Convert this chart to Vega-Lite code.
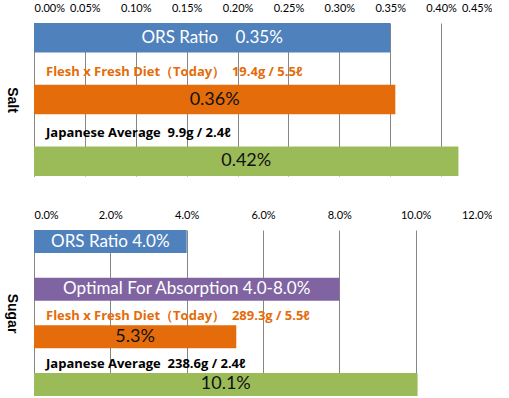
{
  "$schema": "https://vega.github.io/schema/vega-lite/v6.json",
  "padding": {"left": 4, "top": 2, "right": 0, "bottom": 0},
  "spacing": 33,
  "background": "white",
  "config": {
    "view": {"stroke": null},
    "font": "Lato",
    "axisX": {"grid": true, "gridColor": "#868686", "gridOpacity": 1, "domain": false, "ticks": false, "labelFontSize": 11, "labelPadding": 10, "labelColor": "#000", "labelFont": "Lato", "title": null, "orient": "top"},
    "axisY": {"grid": false, "labels": false, "ticks": false, "domain": true, "domainColor": "#868686", "titleAngle": 90, "titleBaseline": "top", "titleFontSize": 14, "titleFontWeight": "bold", "titleFont": "Liberation Sans", "titleColor": "#000", "titlePadding": 16}
  },
  "datasets": {
    "saltBars": [
      {"row": "a", "series": "ORS", "value": 0.0035, "text": "ORS Ratio\u00a0\u00a0\u00a0\u00a00.35%\u00a0\u00a0\u00a0\u00a0\u00a0\u00a0\u00a0"},
      {"row": "c", "series": "Flesh", "value": 0.00355, "text": "0.36%"},
      {"row": "e", "series": "Japan", "value": 0.00417, "text": "0.42%"}
    ],
    "saltCaptions": [
      {"row": "b", "series": "Flesh", "caption": "Flesh x Fresh Diet（Today）\u00a0\u00a019.4g / 5.5ℓ"},
      {"row": "d", "series": "Japan", "caption": "Japanese Average\u00a0\u00a09.9g / 2.4ℓ"}
    ],
    "sugarBars": [
      {"row": "a", "series": "ORS", "value": 0.04, "text": "ORS Ratio 4.0%"},
      {"row": "c", "series": "Optimal", "value": 0.08, "text": "Optimal For Absorption 4.0-8.0%"},
      {"row": "e", "series": "Flesh", "value": 0.053, "text": "5.3%"},
      {"row": "g", "series": "Japan", "value": 0.1005, "text": "10.1%"}
    ],
    "sugarCaptions": [
      {"row": "d", "series": "Flesh", "caption": "Flesh x Fresh Diet（Today）\u00a0\u00a0289.3g / 5.5ℓ"},
      {"row": "f", "series": "Japan", "caption": "Japanese Average\u00a0\u00a0238.6g / 2.4ℓ"}
    ]
  },
  "vconcat": [
    {
      "width": 458,
      "height": 153,
      "layer": [
        {
          "data": {"name": "saltBars"},
          "mark": {"type": "bar"},
          "encoding": {
            "y": {"field": "row", "type": "nominal", "scale": {"domain": ["a", "b", "c", "d", "e"], "paddingInner": 0.04, "paddingOuter": 0}, "axis": {"title": "Salt"}},
            "x": {"field": "value", "type": "quantitative", "scale": {"domain": [0, 0.0045], "nice": false}, "axis": {"values": [0, 0.0005, 0.001, 0.0015, 0.002, 0.0025, 0.003, 0.0035, 0.004, 0.0045], "format": ".2%"}},
            "color": {"field": "series", "type": "nominal", "scale": {"domain": ["ORS", "Optimal", "Flesh", "Japan"], "range": ["#4F81BD", "#8064A2", "#E46C0A", "#9BBB59"]}, "legend": null}
          }
        },
        {
          "data": {"name": "saltBars"},
          "transform": [{"calculate": "datum.value / 2", "as": "mid"}],
          "mark": {"type": "text", "align": "center", "baseline": "middle", "font": "Lato"},
          "encoding": {
            "y": {"field": "row", "type": "nominal"},
            "x": {"field": "mid", "type": "quantitative"},
            "text": {"field": "text"},
            "size": {"condition": {"test": "datum.series == 'ORS' || datum.series == 'Optimal'", "value": 17}, "value": 18},
            "color": {"condition": {"test": "datum.series == 'ORS' || datum.series == 'Optimal'", "value": "#ffffff"}, "value": "#111111"}
          }
        },
        {
          "data": {"name": "saltCaptions"},
          "mark": {"type": "text", "align": "left", "baseline": "middle", "dx": 12, "dy": 3, "font": "Open Sans", "fontWeight": "bold", "fontSize": 13},
          "encoding": {
            "y": {"field": "row", "type": "nominal"},
            "x": {"datum": 0},
            "text": {"field": "caption"},
            "color": {"condition": {"test": "datum.series == 'Flesh'", "value": "#E46C0A"}, "value": "#000000"}
          }
        }
      ]
    },
    {
      "width": 458,
      "height": 166,
      "layer": [
        {
          "data": {"name": "sugarBars"},
          "mark": {"type": "bar"},
          "encoding": {
            "y": {"field": "row", "type": "nominal", "scale": {"domain": ["a", "b", "c", "d", "e", "f", "g"], "paddingInner": 0.03, "paddingOuter": 0}, "axis": {"title": "Sugar"}},
            "x": {"field": "value", "type": "quantitative", "scale": {"domain": [0, 0.12], "nice": false}, "axis": {"values": [0, 0.02, 0.04, 0.06, 0.08, 0.1, 0.12], "format": ".1%"}},
            "color": {"field": "series", "type": "nominal", "scale": {"domain": ["ORS", "Optimal", "Flesh", "Japan"], "range": ["#4F81BD", "#8064A2", "#E46C0A", "#9BBB59"]}, "legend": null}
          }
        },
        {
          "data": {"name": "sugarBars"},
          "transform": [{"calculate": "datum.value / 2", "as": "mid"}],
          "mark": {"type": "text", "align": "center", "baseline": "middle", "font": "Lato"},
          "encoding": {
            "y": {"field": "row", "type": "nominal"},
            "x": {"field": "mid", "type": "quantitative"},
            "text": {"field": "text"},
            "size": {"condition": {"test": "datum.series == 'ORS' || datum.series == 'Optimal'", "value": 17}, "value": 18},
            "color": {"condition": {"test": "datum.series == 'ORS' || datum.series == 'Optimal'", "value": "#ffffff"}, "value": "#111111"}
          }
        },
        {
          "data": {"name": "sugarCaptions"},
          "mark": {"type": "text", "align": "left", "baseline": "middle", "dx": 12, "dy": 3, "font": "Open Sans", "fontWeight": "bold", "fontSize": 13},
          "encoding": {
            "y": {"field": "row", "type": "nominal"},
            "x": {"datum": 0},
            "text": {"field": "caption"},
            "color": {"condition": {"test": "datum.series == 'Flesh'", "value": "#E46C0A"}, "value": "#000000"}
          }
        }
      ]
    }
  ]
}
